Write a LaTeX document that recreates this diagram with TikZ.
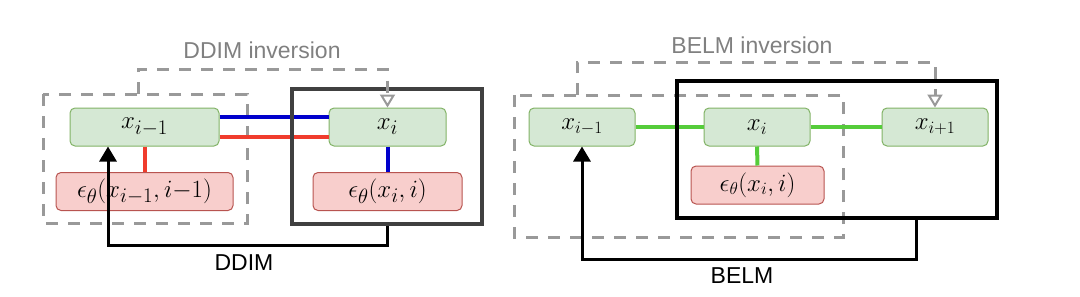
\documentclass[tikz,border=0pt]{standalone}
\usepackage{fontspec}
\setsansfont{Liberation Sans}
\usetikzlibrary{arrows.meta}
\definecolor{gfill}{HTML}{D5E8D4}
\definecolor{gline}{HTML}{82B366}
\definecolor{rfill}{HTML}{F8CECC}
\definecolor{rline}{HTML}{B85450}
\definecolor{dgray}{HTML}{999999}
\definecolor{tgray}{HTML}{808080}
\definecolor{lblue}{HTML}{0000CC}
\definecolor{lred}{HTML}{F03C2D}
\definecolor{lgreen}{HTML}{55CC3A}
\begin{document}
\begin{tikzpicture}[x=1pt, y=-1pt,
    xnode/.style={rectangle, draw=gline, fill=gfill, rounded corners=5pt, line width=1pt,
        inner sep=0pt, minimum height=38pt, font=\fontsize{28}{32}\selectfont},
    enode/.style={xnode, draw=rline, fill=rfill, font=\fontsize{30}{34}\selectfont},
    small/.style={font=\fontsize{26}{30}\selectfont},
    dashbox/.style={draw=dgray, line width=3pt, dash pattern=on 12pt off 10pt},
    solidbox/.style={draw, line width=4pt, inner sep=0pt},
    link/.style={line width=4pt},
    flow/.style={draw, line width=3pt, -{Triangle[length=15pt, width=17pt]}},
    inv/.style={dashbox, -{Triangle[open, length=13pt, width=15pt, line width=2pt]}},
    lbl/.style={font=\sffamily\fontsize{23}{27}\selectfont}]
    \useasboundingbox (0,0) rectangle (1080,297);
    % DDIM
    \draw[dashbox] (43,94) rectangle (247,223);
    \node[xnode, minimum width=149pt] (xa) at (144.5,127) {$x_{i-1}$};
    \node[enode, minimum width=177pt] (ea) at (144.5,191.5) {$\epsilon_\theta(x_{i-1},i{-}1)$};
    \node[xnode, minimum width=117pt] (xb) at (387.5,127) {$x_i$};
    \node[enode, minimum width=149pt] (eb) at (387.5,191.5) {$\epsilon_\theta(x_i,i)$};
    \draw[link, lblue] ([yshift=10pt]xa.east) -- ([yshift=10pt]xb.west);
    \draw[link, lred] ([yshift=-10pt]xa.east) -- ([yshift=-10pt]xb.west);
    \draw[link, lred] (xa.south) -- (ea.north);
    \draw[link, lblue] (xb.south) -- (eb.north);
    \node[solidbox, draw=black!75, minimum width=190pt, minimum height=135pt] (boxa) at (387,156.5) {};
    \coordinate (inva) at (138,94);
    \draw[inv] (inva) -- (138,69) -| (xb.north);
    \node[lbl, text=tgray] (tinva) at (262,50) {DDIM inversion};
    \draw[flow] (boxa.south) -- ++(0,19) -| ([xshift=-36.5pt]xa.south);
    \node[lbl] (tddim) at (244,263) {DDIM};
    % BELM
    \draw[dashbox] (514,95) rectangle (843,237);
    \node[xnode, small, minimum width=106pt] (ya) at (582,127) {$x_{i-1}$};
    \node[xnode, small, minimum width=106pt] (yb) at (757,127) {$x_i$};
    \node[xnode, small, minimum width=106pt] (yc) at (935,127) {$x_{i+1}$};
    \node[enode, small, minimum width=133pt] (ey) at (757.5,185) {$\epsilon_\theta(x_i,i)$};
    \draw[link, lgreen] (ya) -- (yb);
    \draw[link, lgreen] (yb) -- (yc);
    \draw[link, lgreen] (yb) -- (ey);
    \node[solidbox, minimum width=320pt, minimum height=137pt] (boxb) at (837,149.5) {};
    \coordinate (invb) at (577,95);
    \draw[inv] (invb) -- (577,62) -| (yc.north);
    \node[lbl, text=tgray] (tinvb) at (752,45) {BELM inversion};
    \draw[flow] ([xshift=79pt]boxb.south) -- ++(0,39) -| (ya.south);
    \node[lbl] (tbelm) at (742,276) {BELM};
\end{tikzpicture}
\end{document}
